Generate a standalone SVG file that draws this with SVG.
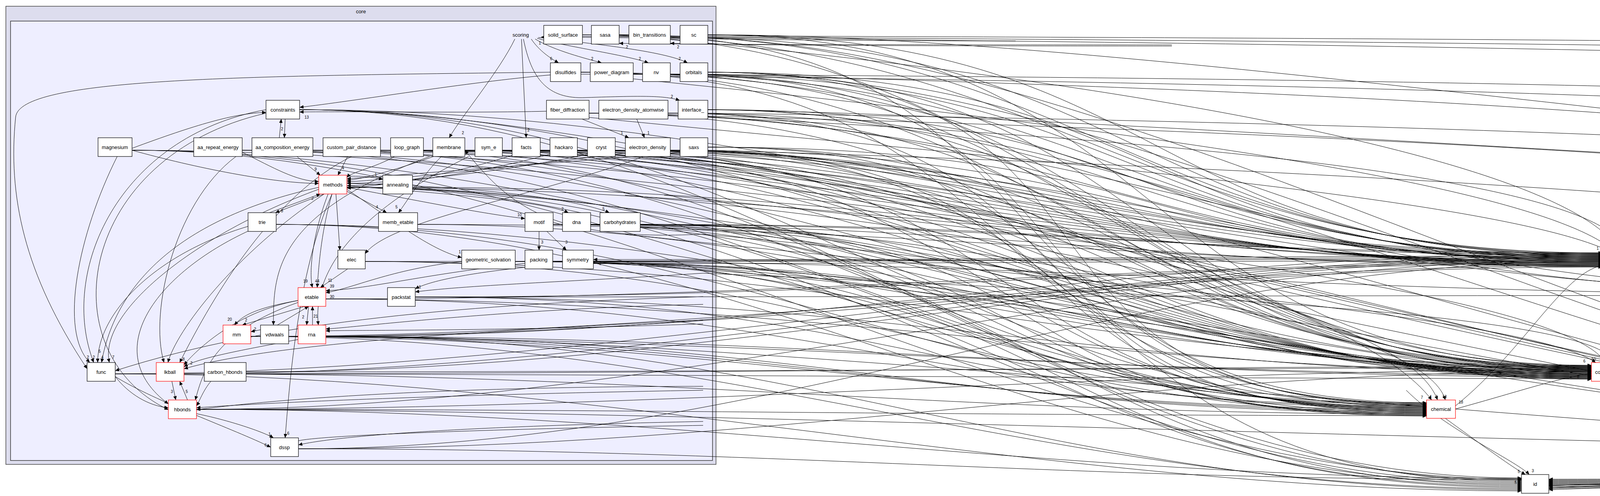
<svg xmlns="http://www.w3.org/2000/svg" width="7965" height="1271" viewBox="0 0 7965 1271">
<defs>
<marker id="ah" markerUnits="userSpaceOnUse" markerWidth="11" markerHeight="9" refX="10" refY="4.5" orient="auto"><path d="M0,0 L10,4.5 L0,9 z" fill="#000"/></marker>
<style>
.n rect{fill:#fff;stroke:#000;stroke-width:1.2}
.r rect{stroke:#f00}
text{font-family:"Liberation Sans",Arial,sans-serif;font-size:13px;text-anchor:middle;dominant-baseline:central;fill:#000}
#edges path{fill:none;stroke:#000;stroke-width:1;marker-end:url(#ah)}
#edges text{font-size:10px}
</style>
</defs>
<rect x="0" y="0" width="7965" height="1271" fill="#fff"/>
<g id="cluster_core">
<rect x="15" y="16" width="1818" height="1174" fill="#ddddee" stroke="#444" stroke-width="1.5"/>
<text x="924" y="29">core</text>
<rect x="27" y="54" width="1797" height="1126" fill="#eeeeff" stroke="#333" stroke-width="1.5"/>
<text x="1333" y="89">scoring</text>
</g>
<g id="edges">
<!-- internal -->
<path d="M1360,100 C1380,130 1410,150 1430,161"/><text x="1411" y="150">6</text>
<path d="M1370,100 C1420,130 1500,150 1540,161"/><text x="1516" y="150">2</text>
<path d="M1375,98 C1450,120 1600,140 1660,161"/><text x="1638" y="150">2</text>
<path d="M1378,96 C1500,110 1700,130 1760,161"/><text x="1740" y="150">2</text>
<path d="M1340,100 C1360,200 1400,255 1500,250 C1650,245 1700,245 1740,257"/><text x="1720" y="247">2</text>
<path d="M1335,100 L1347,353"/><text x="1353" y="333">2</text>
<path d="M1318,100 C1280,180 1180,300 1150,353"/><text x="1185" y="340">2</text>
<path d="M2600,105 C2000,105 1600,95 1385,95"/><text x="1382" y="110">1</text>
<path d="M3000,115 C2000,115 1700,113 1585,111"/><text x="1605" y="120">2</text>
<path d="M3000,118 C2000,118 1800,113 1716,111"/><text x="1736" y="120">2</text>
<path d="M1409,192 C1200,210 900,260 767,275"/>
<path d="M1409,185 C600,195 50,200 40,300 C20,500 60,700 223,945"/>
<path d="M1399,285 C1200,290 900,285 767,287"/><text x="785" y="300">13</text>
<path d="M1490,305 L1610,353"/><text x="1592" y="340">1</text>
<path d="M1630,305 L1650,353"/><text x="1660" y="340">1</text>
<path d="M715,353 L720,305"/><path d="M730,305 L728,353"/><text x="722" y="330">2</text>
<path d="M338,385 C500,430 700,470 816,470"/>
<path d="M338,380 C500,320 600,290 681,288"/>
<path d="M620,390 C700,430 760,465 816,465"/>
<path d="M760,401 L820,449"/><text x="808" y="433">9</text>
<path d="M890,401 L865,449"/><text x="878" y="430">4</text>
<path d="M1010,401 C960,430 900,440 888,455"/>
<path d="M1110,401 C1000,440 920,460 888,462"/>
<path d="M1741,390 C1400,420 1000,450 888,458"/>
<path d="M1601,392 C1300,430 1000,460 888,466"/>
<path d="M1504,395 C1300,440 1000,470 888,470"/>
<path d="M1408,395 C1250,440 1000,475 888,476"/>
<path d="M1311,398 C1150,450 950,480 888,482"/>
<path d="M888,452 C930,450 960,455 980,460"/><text x="962" y="447">1</text>
<path d="M830,497 L705,545"/><text x="722" y="540">8</text>
<path d="M690,545 L820,497"/><text x="800" y="508">2</text>
<path d="M888,490 L990,545"/><text x="965" y="530">4</text>
<path d="M1130,401 C1080,450 1040,520 1020,545"/><text x="1015" y="530">5</text>
<path d="M888,480 C1100,520 1250,550 1344,560"/><text x="1330" y="550">10</text>
<path d="M888,476 C1200,500 1400,520 1455,545"/><text x="1440" y="535">2</text>
<path d="M888,470 C1300,480 1500,520 1560,545"/><text x="1545" y="535">5</text>
<path d="M1380,593 L1380,641"/><text x="1388" y="620">3</text>
<path d="M1400,593 L1450,641"/><text x="1450" y="620">3</text>
<path d="M2400,665 L1519,665"/><text x="1537" y="675">2</text>
<path d="M860,497 L870,641"/>
<path d="M890,689 L820,737"/><text x="845" y="718">11</text>
<path d="M840,497 C800,600 790,700 800,737"/><text x="782" y="720">19</text>
<path d="M850,497 C820,600 815,700 812,737"/><text x="812" y="720">44</text>
<path d="M888,485 C1000,560 1100,640 1182,660"/><text x="1177" y="645">1</text>
<path d="M1182,670 C1000,690 900,740 834,750"/><text x="850" y="760">30</text>
<path d="M1344,675 C1100,700 950,740 834,745"/><text x="850" y="733">39</text>
<path d="M1344,685 C1200,700 1100,720 1063,740"/><text x="1075" y="735">1</text>
<path d="M780,785 L620,833"/><text x="630" y="820">2</text>
<path d="M667,845 L642,850"/><text x="653" y="843">2</text>
<path d="M710,833 L790,785"/>
<path d="M800,833 L800,785"/><text x="808" y="810">21</text>
<path d="M790,785 L785,833"/><text x="776" y="812">2</text>
<path d="M763,770 C650,790 620,810 600,833"/><text x="588" y="818">20</text>
<path d="M440,977 L450,1025"/><text x="440" y="1003">3</text>
<path d="M480,1025 L460,977"/><text x="478" y="1003">5</text>
<path d="M540,977 C520,1000 510,1030 503,1040"/>
<path d="M295,965 C330,1010 380,1040 431,1045"/>
<path d="M503,1060 C600,1080 680,1110 700,1122"/><text x="690" y="1112">1</text>
<path d="M295,965 C400,1030 600,1100 693,1146"/><text x="680" y="1140">6</text>
<path d="M850,497 C760,700 740,1000 730,1122"/><text x="738" y="1110">6</text>
<path d="M763,870 C600,900 500,920 471,940"/>
<path d="M763,770 C600,800 500,900 471,935"/><text x="490" y="930">2</text>
<path d="M763,775 C550,850 520,950 500,1025"/>
<path d="M816,480 C500,550 300,700 260,929"/><text x="262" y="915">4</text>
<path d="M681,281 C300,350 150,700 240,929"/><text x="240" y="915">2</text>
<path d="M816,485 C500,600 250,800 280,929"/><text x="290" y="915">7</text>
<path d="M681,290 C200,400 120,900 431,1050"/>
<path d="M830,497 C600,650 450,850 430,929"/>
<path d="M635,580 C400,650 250,800 250,929"/><text x="255" y="900">5</text>
<path d="M640,590 C400,700 250,900 431,1035"/>
<path d="M300,401 C200,600 150,850 230,929"/><text x="225" y="915">2</text>
<path d="M620,390 C450,500 380,800 420,929"/>
<path d="M900,401 C700,500 550,750 460,929"/><text x="470" y="920">8</text>
<path d="M1100,401 C700,550 700,700 700,833"/>
<path d="M1200,401 C900,550 800,700 815,833"/>
<path d="M1690,385 C1400,500 1000,560 935,650"/>
<path d="M1800,830 C1200,850 900,845 834,848"/>
<path d="M1800,780 C1300,790 900,840 834,843"/>
<path d="M1800,1090 C1200,1100 700,1120 764,1135"/>
<path d="M1800,1080 C1300,1090 900,1110 764,1140"/>
<path d="M1800,1000 C1200,1010 700,1030 503,1045"/>
<path d="M1800,990 C1300,990 800,1010 503,1050"/>
<path d="M1800,760 C1200,780 700,820 295,950"/>
<path d="M1800,820 C1200,850 700,880 471,945"/>
<path d="M1800,700 C1500,720 1200,730 1063,748"/>
<path d="M1800,600 C1400,620 1300,520 1190,385"/>
<!-- to pose -->
<path d="M1491,89 C2691,89 2902,648 4102,648"/>
<path d="M1585,89 C2785,89 2902,650 4102,650"/>
<path d="M1716,95 C2916,95 2902,652 4102,652"/>
<path d="M1812,89 C3012,89 2902,654 4102,654"/>
<path d="M1487,185 C2687,185 2902,656 4102,656"/>
<path d="M1621,190 C2821,190 2902,658 4102,658"/>
<path d="M1716,190 C2916,190 2902,660 4102,660"/>
<path d="M1812,185 C3012,185 2902,662 4102,662"/>
<path d="M767,281 C1967,281 2902,664 4102,664"/>
<path d="M1508,290 C2708,290 2902,666 4102,666"/>
<path d="M1710,290 C2910,290 2902,668 4102,668"/>
<path d="M1812,281 C3012,281 2902,670 4102,670"/>
<path d="M338,385 C1538,385 2902,672 4102,672"/>
<path d="M620,385 C1820,385 2902,674 4102,674"/>
<path d="M801,385 C2001,385 2902,676 4102,676"/>
<path d="M974,385 C2174,385 2902,678 4102,678"/>
<path d="M1084,385 C2284,385 2902,680 4102,680"/>
<path d="M1190,385 C2390,385 2902,682 4102,682"/>
<path d="M1286,385 C2486,385 2902,684 4102,684"/>
<path d="M1383,385 C2583,385 2902,650 4102,650"/>
<path d="M1478,385 C2678,385 2902,654 4102,654"/>
<path d="M1575,385 C2775,385 2902,658 4102,658"/>
<path d="M1716,385 C2916,385 2902,662 4102,662"/>
<path d="M1812,377 C3012,377 2902,666 4102,666"/>
<path d="M888,480 C2088,480 2902,670 4102,670"/>
<path d="M1056,480 C2256,480 2902,674 4102,674"/>
<path d="M1069,575 C2269,575 2902,678 4102,678"/>
<path d="M1416,575 C2616,575 2902,682 4102,682"/>
<path d="M1512,575 C2712,575 2902,648 4102,648"/>
<path d="M1639,575 C2839,575 2902,652 4102,652"/>
<path d="M935,670 C2135,670 2902,656 4102,656"/>
<path d="M1319,670 C2519,670 2902,660 4102,660"/>
<path d="M1415,670 C2615,670 2902,664 4102,664"/>
<path d="M1519,675 C2719,675 2902,668 4102,668"/>
<path d="M834,766 C2034,766 2902,672 4102,672"/>
<path d="M1063,761 C2263,761 2902,676 4102,676"/>
<path d="M642,862 C1842,862 2902,680 4102,680"/>
<path d="M739,862 C1939,862 2902,684 4102,684"/>
<path d="M834,862 C2034,862 2902,649 4102,649"/>
<path d="M295,958 C1495,958 2902,653 4102,653"/>
<path d="M471,958 C1671,958 2902,657 4102,657"/>
<path d="M630,953 C1830,953 2902,661 4102,661"/>
<path d="M503,1049 C1703,1049 2902,665 4102,665"/>
<path d="M764,1150 C1964,1150 2902,669 4102,669"/>
<path d="M1500,300 C2500,400 3800,500 4115,641"/>
<path d="M1600,200 C2600,300 3900,450 4130,641"/>
<path d="M1700,100 C2800,200 4000,400 4145,641"/>
<path d="M1800,300 C2900,350 4100,450 4160,641"/>
<text x="4090" y="636">1</text><text x="4115" y="628">12</text><text x="4132" y="628">20</text><text x="4147" y="628">5</text><text x="4162" y="628">1</text>
<!-- to conformation -->
<path d="M1491,89 C2691,89 2874,936 4074,936"/>
<path d="M1812,89 C3012,89 2874,938 4074,938"/>
<path d="M1487,185 C2687,185 2874,940 4074,940"/>
<path d="M1621,190 C2821,190 2874,942 4074,942"/>
<path d="M1716,190 C2916,190 2874,944 4074,944"/>
<path d="M1812,185 C3012,185 2874,946 4074,946"/>
<path d="M767,281 C1967,281 2874,948 4074,948"/>
<path d="M1508,290 C2708,290 2874,950 4074,950"/>
<path d="M1710,290 C2910,290 2874,952 4074,952"/>
<path d="M1812,281 C3012,281 2874,954 4074,954"/>
<path d="M338,385 C1538,385 2874,956 4074,956"/>
<path d="M620,385 C1820,385 2874,958 4074,958"/>
<path d="M801,385 C2001,385 2874,960 4074,960"/>
<path d="M974,385 C2174,385 2874,962 4074,962"/>
<path d="M1084,385 C2284,385 2874,964 4074,964"/>
<path d="M1190,385 C2390,385 2874,966 4074,966"/>
<path d="M1286,385 C2486,385 2874,968 4074,968"/>
<path d="M1383,385 C2583,385 2874,970 4074,970"/>
<path d="M1478,385 C2678,385 2874,972 4074,972"/>
<path d="M1575,385 C2775,385 2874,937 4074,937"/>
<path d="M1716,385 C2916,385 2874,941 4074,941"/>
<path d="M1812,377 C3012,377 2874,945 4074,945"/>
<path d="M888,480 C2088,480 2874,949 4074,949"/>
<path d="M707,575 C1907,575 2874,953 4074,953"/>
<path d="M1069,575 C2269,575 2874,957 4074,957"/>
<path d="M1416,575 C2616,575 2874,961 4074,961"/>
<path d="M1512,575 C2712,575 2874,965 4074,965"/>
<path d="M1639,575 C2839,575 2874,969 4074,969"/>
<path d="M935,670 C2135,670 2874,938 4074,938"/>
<path d="M1319,670 C2519,670 2874,942 4074,942"/>
<path d="M1415,670 C2615,670 2874,946 4074,946"/>
<path d="M1519,675 C2719,675 2874,950 4074,950"/>
<path d="M834,766 C2034,766 2874,954 4074,954"/>
<path d="M1063,761 C2263,761 2874,958 4074,958"/>
<path d="M642,862 C1842,862 2874,962 4074,962"/>
<path d="M834,862 C2034,862 2874,966 4074,966"/>
<path d="M295,958 C1495,958 2874,970 4074,970"/>
<path d="M471,958 C1671,958 2874,939 4074,939"/>
<path d="M630,953 C1830,953 2874,943 4074,943"/>
<path d="M503,1049 C1703,1049 2874,947 4074,947"/>
<path d="M764,1150 C1964,1150 2874,951 4074,951"/>
<path d="M1600,600 C2500,700 3900,800 4085,929"/>
<path d="M1700,500 C2700,600 4000,750 4110,929"/>
<path d="M1800,700 C2900,750 4100,800 4130,929"/>
<text x="4056" y="925">6</text><text x="4080" y="920">50</text><text x="4108" y="918">3</text><text x="4126" y="918">64</text><text x="4040" y="965">8</text><text x="4180" y="940">22</text>
<!-- to chemical -->
<path d="M1585,89 C2785,89 2452,1032 3652,1032"/>
<path d="M1487,185 C2687,185 2452,1034 3652,1034"/>
<path d="M1716,190 C2916,190 2452,1036 3652,1036"/>
<path d="M1812,185 C3012,185 2452,1038 3652,1038"/>
<path d="M767,281 C1967,281 2452,1040 3652,1040"/>
<path d="M1710,290 C2910,290 2452,1042 3652,1042"/>
<path d="M338,385 C1538,385 2452,1044 3652,1044"/>
<path d="M620,385 C1820,385 2452,1046 3652,1046"/>
<path d="M801,385 C2001,385 2452,1048 3652,1048"/>
<path d="M1383,385 C2583,385 2452,1050 3652,1050"/>
<path d="M1478,385 C2678,385 2452,1052 3652,1052"/>
<path d="M1716,385 C2916,385 2452,1054 3652,1054"/>
<path d="M1812,377 C3012,377 2452,1056 3652,1056"/>
<path d="M888,480 C2088,480 2452,1058 3652,1058"/>
<path d="M707,575 C1907,575 2452,1060 3652,1060"/>
<path d="M1416,575 C2616,575 2452,1062 3652,1062"/>
<path d="M1512,575 C2712,575 2452,1064 3652,1064"/>
<path d="M1639,575 C2839,575 2452,1066 3652,1066"/>
<path d="M935,670 C2135,670 2452,1033 3652,1033"/>
<path d="M1319,670 C2519,670 2452,1037 3652,1037"/>
<path d="M834,766 C2034,766 2452,1041 3652,1041"/>
<path d="M1063,761 C2263,761 2452,1045 3652,1045"/>
<path d="M642,862 C1842,862 2452,1049 3652,1049"/>
<path d="M739,862 C1939,862 2452,1053 3652,1053"/>
<path d="M834,862 C2034,862 2452,1057 3652,1057"/>
<path d="M471,958 C1671,958 2452,1061 3652,1061"/>
<path d="M503,1049 C1703,1049 2452,1065 3652,1065"/>
<path d="M1700,400 C2600,500 3500,800 3665,1025"/>
<path d="M1600,500 C2700,600 3600,800 3680,1025"/>
<path d="M1800,600 C2900,700 3650,850 3700,1025"/>
<text x="3640" y="1018">7</text><text x="3662" y="1016">4</text><text x="3678" y="1016">1</text><text x="3698" y="1016">13</text><text x="3740" y="1030">18</text>
<!-- to id -->
<path d="M767,281 C1967,281 2695,1225 3895,1225"/>
<path d="M338,385 C1538,385 2695,1228 3895,1228"/>
<path d="M974,385 C2174,385 2695,1231 3895,1231"/>
<path d="M1716,385 C2916,385 2695,1234 3895,1234"/>
<path d="M888,480 C2088,480 2695,1237 3895,1237"/>
<path d="M707,575 C1907,575 2695,1240 3895,1240"/>
<path d="M1416,575 C2616,575 2695,1243 3895,1243"/>
<path d="M1415,670 C2615,670 2695,1246 3895,1246"/>
<path d="M1519,675 C2719,675 2695,1249 3895,1249"/>
<path d="M642,862 C1842,862 2695,1252 3895,1252"/>
<path d="M834,862 C2034,862 2695,1255 3895,1255"/>
<path d="M295,958 C1495,958 2695,1258 3895,1258"/>
<path d="M503,1049 C1703,1049 2695,1226 3895,1226"/>
<path d="M764,1150 C1964,1150 2695,1229 3895,1229"/>
<path d="M3700,1072 C3780,1130 3860,1190 3905,1216"/><text x="3888" y="1208">5</text>
<path d="M3600,1000 C3700,1100 3880,1180 3915,1216"/><text x="3924" y="1206">3</text>
<text x="3880" y="1236">5</text>
<!-- to kinematics -->
<path d="M1716,95 C2916,95 4424,1130 5624,1130"/>
<path d="M1812,185 C3012,185 4424,1132 5624,1132"/>
<path d="M767,281 C1967,281 4424,1134 5624,1134"/>
<path d="M1812,281 C3012,281 4424,1136 5624,1136"/>
<path d="M1084,385 C2284,385 4424,1138 5624,1138"/>
<path d="M1190,385 C2390,385 4424,1140 5624,1140"/>
<path d="M1286,385 C2486,385 4424,1142 5624,1142"/>
<path d="M1716,385 C2916,385 4424,1144 5624,1144"/>
<path d="M888,480 C2088,480 4424,1146 5624,1146"/>
<path d="M1639,575 C2839,575 4424,1148 5624,1148"/>
<path d="M1319,670 C2519,670 4424,1150 5624,1150"/>
<path d="M1519,675 C2719,675 4424,1152 5624,1152"/>
<path d="M834,862 C2034,862 4424,1154 5624,1154"/>
<path d="M503,1049 C1703,1049 4424,1156 5624,1156"/>
<text x="5610" y="1112">1</text><text x="5680" y="1108">55</text>
<!-- to io / select -->
<path d="M1508,290 C2708,290 3485,745 4685,745"/>
<path d="M1190,385 C2390,385 3485,748 4685,748"/>
<path d="M1575,385 C2775,385 3485,751 4685,751"/>
<path d="M1415,670 C2615,670 3485,754 4685,754"/>
<path d="M1063,761 C2263,761 3485,757 4685,757"/>
<path d="M1812,89 C3012,89 5227,470 6427,470"/>
<path d="M1812,281 C3000,300 5227,490 6427,480"/><text x="6413" y="463">6</text>
<!-- outside -->
<path d="M4172,668 C4400,690 4600,730 4685,752"/><text x="4672" y="730">1</text>
<path d="M4172,672 C4600,720 5300,830 5501,850"/><text x="5482" y="840">2</text>
<path d="M4756,768 C5000,800 5300,840 5501,855"/>
<path d="M4756,775 C5000,900 5500,1080 5624,1128"/>
<path d="M4160,689 C4600,900 5500,1000 5660,1121"/>
<path d="M4168,965 C4600,1040 5300,1120 5624,1140"/>
<path d="M5624,1155 C5000,1200 4300,1235 3965,1245"/>
<path d="M3726,1048 C3900,1000 4000,965 4074,958"/>
<path d="M3726,1040 C3900,900 4000,700 4102,680"/>
<path d="M4172,650 C5000,560 6000,473 6427,473"/>
<path d="M6427,480 C5500,560 4700,660 4172,670"/>
<path d="M6497,475 C7000,420 7200,800 6500,1000 C5500,1100 4500,980 4168,960"/>
<path d="M5578,845 C6000,800 6200,700 6300,500 C6400,300 7000,200 6000,300 C5000,400 4500,600 4172,660"/>
<path d="M5700,280 C5400,500 5300,700 5530,833"/><text x="5530" y="820">2</text>
<path d="M5000,300 C4800,600 4700,700 4745,737"/><text x="4762" y="735">2</text>
<path d="M6460,496 C6400,800 6200,1100 5709,1150"/>
<path d="M6470,496 C6600,900 6500,1150 3965,1250"/>
<!-- big loops to id -->
<path d="M1812,92 C4000,100 7600,110 7780,250 C7820,400 7820,1100 7700,1200 C7500,1232 5000,1238 3965,1240"/>
<path d="M1585,93 C4000,110 7400,130 7660,300 C7700,500 7700,1100 7600,1195 C7400,1228 5000,1236 3965,1238"/>
<path d="M1491,93 C4000,120 7200,150 7500,400 C7550,700 7560,1100 7450,1190 C7300,1225 5000,1234 3965,1236"/>
<path d="M1487,190 C4000,200 7000,250 7300,500 C7380,800 7380,1100 7280,1188 C7100,1222 5000,1232 3965,1234"/>
<path d="M1716,195 C4000,220 6800,300 7100,600 C7200,900 7200,1120 7080,1185 C6900,1220 5000,1230 3965,1232"/>
<path d="M1812,290 C4000,320 6600,400 6900,700 C7000,950 7000,1120 6880,1182 C6700,1218 5000,1228 3965,1230"/>
<path d="M1710,295 C4000,350 6400,500 6700,800 C6800,1000 6800,1140 6680,1182 C6500,1215 5000,1226 3965,1228"/>
<path d="M4172,680 C5000,700 7500,500 7450,900 C7420,1150 7200,1200 6800,1210 C5500,1230 4300,1240 3965,1242"/>
<path d="M4168,975 C5000,1000 7300,700 7250,1000 C7220,1180 6800,1210 3965,1244"/>
<path d="M4756,760 C5500,700 7000,400 7600,300 C7900,260 7900,600 7870,1000 C7850,1180 7600,1215 3965,1247"/>
<path d="M1812,385 C4000,450 6200,600 6400,900 C6500,1100 6400,1200 6200,1205 C5500,1220 4500,1235 3965,1250"/>
<path d="M5578,870 C6000,900 6300,1000 6250,1150 C6200,1210 5000,1230 3965,1252"/>
<path d="M1812,190 C4000,250 5800,350 6000,700 C6100,1000 6000,1150 5800,1190 C5000,1220 4400,1240 3965,1255"/>
</g>
<g id="n_solid_surface" class="n"><rect x="1392" y="65" width="99" height="48"/><text x="1441" y="89">solid_surface</text></g>
<g id="n_sasa" class="n"><rect x="1514" y="65" width="71" height="48"/><text x="1549" y="89">sasa</text></g>
<g id="n_bin_transitions" class="n"><rect x="1610" y="65" width="106" height="48"/><text x="1663" y="89">bin_transitions</text></g>
<g id="n_sc" class="n"><rect x="1741" y="65" width="71" height="48"/><text x="1776" y="89">sc</text></g>
<g id="n_disulfides" class="n"><rect x="1409" y="161" width="78" height="48"/><text x="1448" y="185">disulfides</text></g>
<g id="n_power_diagram" class="n"><rect x="1511" y="161" width="110" height="48"/><text x="1566" y="185">power_diagram</text></g>
<g id="n_nv" class="n"><rect x="1645" y="161" width="71" height="48"/><text x="1680" y="185">nv</text></g>
<g id="n_orbitals" class="n"><rect x="1741" y="161" width="71" height="48"/><text x="1776" y="185">orbitals</text></g>
<g id="n_constraints" class="n"><rect x="681" y="257" width="86" height="48"/><text x="724" y="281">constraints</text></g>
<g id="n_fiber_diffraction" class="n"><rect x="1399" y="257" width="109" height="48"/><text x="1453" y="281">fiber_diffraction</text></g>
<g id="n_electron_density_atomwise" class="n"><rect x="1533" y="257" width="177" height="48"/><text x="1621" y="281">electron_density_atomwise</text></g>
<g id="n_interface_" class="n"><rect x="1736" y="257" width="76" height="48"/><text x="1774" y="281">interface_</text></g>
<g id="n_magnesium" class="n"><rect x="251" y="353" width="87" height="48"/><text x="294" y="377">magnesium</text></g>
<g id="n_aa_repeat_energy" class="n"><rect x="496" y="353" width="124" height="48"/><text x="558" y="377">aa_repeat_energy</text></g>
<g id="n_aa_composition_energy" class="n"><rect x="645" y="353" width="156" height="48"/><text x="723" y="377">aa_composition_energy</text></g>
<g id="n_custom_pair_distance" class="n"><rect x="827" y="353" width="147" height="48"/><text x="900" y="377">custom_pair_distance</text></g>
<g id="n_loop_graph" class="n"><rect x="1000" y="353" width="84" height="48"/><text x="1042" y="377">loop_graph</text></g>
<g id="n_membrane" class="n"><rect x="1108" y="353" width="82" height="48"/><text x="1149" y="377">membrane</text></g>
<g id="n_sym_e" class="n"><rect x="1216" y="353" width="70" height="48"/><text x="1251" y="377">sym_e</text></g>
<g id="n_facts" class="n"><rect x="1311" y="353" width="72" height="48"/><text x="1347" y="377">facts</text></g>
<g id="n_hackaro" class="n"><rect x="1408" y="353" width="70" height="48"/><text x="1443" y="377">hackaro</text></g>
<g id="n_cryst" class="n"><rect x="1504" y="353" width="71" height="48"/><text x="1539" y="377">cryst</text></g>
<g id="n_electron_density" class="n"><rect x="1601" y="353" width="115" height="48"/><text x="1658" y="377">electron_density</text></g>
<g id="n_saxs" class="n"><rect x="1741" y="353" width="71" height="48"/><text x="1776" y="377">saxs</text></g>
<g id="n_methods" class="n r"><rect x="816" y="449" width="72" height="48"/><text x="852" y="473">methods</text></g>
<g id="n_annealing" class="n"><rect x="980" y="449" width="76" height="48"/><text x="1018" y="473">annealing</text></g>
<g id="n_trie" class="n"><rect x="635" y="545" width="72" height="48"/><text x="671" y="569">trie</text></g>
<g id="n_memb_etable" class="n"><rect x="969" y="545" width="100" height="48"/><text x="1019" y="569">memb_etable</text></g>
<g id="n_motif" class="n"><rect x="1344" y="545" width="72" height="48"/><text x="1380" y="569">motif</text></g>
<g id="n_dna" class="n"><rect x="1440" y="545" width="72" height="48"/><text x="1476" y="569">dna</text></g>
<g id="n_carbohydrates" class="n"><rect x="1536" y="545" width="103" height="48"/><text x="1587" y="569">carbohydrates</text></g>
<g id="n_elec" class="n"><rect x="865" y="641" width="70" height="48"/><text x="900" y="665">elec</text></g>
<g id="n_geometric_solvation" class="n"><rect x="1182" y="641" width="137" height="48"/><text x="1250" y="665">geometric_solvation</text></g>
<g id="n_packing" class="n"><rect x="1344" y="641" width="71" height="48"/><text x="1379" y="665">packing</text></g>
<g id="n_symmetry" class="n"><rect x="1440" y="641" width="79" height="48"/><text x="1479" y="665">symmetry</text></g>
<g id="n_etable" class="n r"><rect x="763" y="737" width="71" height="48"/><text x="798" y="761">etable</text></g>
<g id="n_packstat" class="n"><rect x="992" y="737" width="71" height="48"/><text x="1027" y="761">packstat</text></g>
<g id="n_mm" class="n r"><rect x="571" y="833" width="71" height="48"/><text x="606" y="857">mm</text></g>
<g id="n_vdwaals" class="n"><rect x="667" y="833" width="72" height="48"/><text x="703" y="857">vdwaals</text></g>
<g id="n_rna" class="n r"><rect x="763" y="833" width="71" height="48"/><text x="798" y="857">rna</text></g>
<g id="n_func" class="n"><rect x="223" y="929" width="72" height="48"/><text x="259" y="953">func</text></g>
<g id="n_lkball" class="n r"><rect x="400" y="929" width="71" height="48"/><text x="435" y="953">lkball</text></g>
<g id="n_carbon_hbonds" class="n"><rect x="523" y="929" width="107" height="48"/><text x="576" y="953">carbon_hbonds</text></g>
<g id="n_hbonds" class="n r"><rect x="431" y="1025" width="72" height="48"/><text x="467" y="1049">hbonds</text></g>
<g id="n_dssp" class="n"><rect x="693" y="1122" width="71" height="48"/><text x="728" y="1146">dssp</text></g>
<g id="n_chemical" class="n r"><rect x="3652" y="1025" width="74" height="47"/><text x="3689" y="1048">chemical</text></g>
<g id="n_id" class="n"><rect x="3895" y="1216" width="70" height="48"/><text x="3930" y="1240">id</text></g>
<g id="n_pose" class="n r"><rect x="4102" y="641" width="70" height="48"/><text x="4137" y="665">pose</text></g>
<g id="n_io" class="n r"><rect x="4685" y="737" width="71" height="48"/><text x="4720" y="761">io</text></g>
<g id="n_sequence" class="n"><rect x="5501" y="833" width="77" height="48"/><text x="5539" y="857">sequence</text></g>
<g id="n_conformation" class="n r"><rect x="4074" y="929" width="94" height="48"/><text x="4121" y="953">conformation</text></g>
<g id="n_kinematics" class="n r"><rect x="5624" y="1121" width="85" height="47"/><text x="5666" y="1145">kinematics</text></g>
<g id="n_select" class="n r"><rect x="6427" y="450" width="70" height="46"/><text x="6462" y="473">select</text></g>
</svg>
